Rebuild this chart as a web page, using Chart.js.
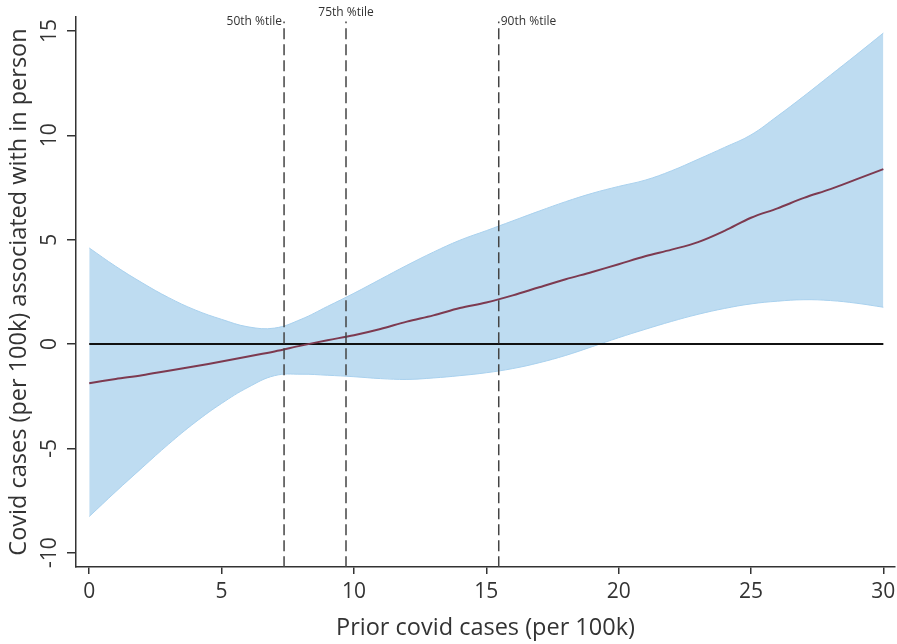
<!DOCTYPE html>
<html>
<head>
<meta charset="utf-8">
<script src="https://cdn.jsdelivr.net/npm/chart.js@4"></script>
<style>
  html, body { margin: 0; padding: 0; background: #fff; }
  #wrap { width: 897px; height: 644px; }
</style>
</head>
<body>
<div id="wrap"><canvas id="marginsChart" width="897" height="644"></canvas></div>
<script>
// === Data ===
const priorCases = [0, 1, 2, 3, 4, 5, 6, 7, 8, 9, 10, 11, 12, 13, 14, 15,
  16, 17, 18, 19, 20, 21, 22, 23, 24, 25, 26, 27, 28, 29, 30];
const effect = [-1.88, -1.68, -1.5, -1.28, -1.07, -0.84, -0.6, -0.36, -0.08, 0.18, 0.42,
  0.72, 1.07, 1.37, 1.72, 1.99, 2.33, 2.72, 3.1, 3.45, 3.82, 4.2, 4.52, 4.88, 5.42,
  6.05, 6.5, 7.0, 7.42, 7.9, 8.38];
const upperCI = [4.6, 3.72, 2.93, 2.22, 1.63, 1.18, 0.82, 0.76, 1.18, 1.8, 2.43,
  3.1, 3.77, 4.4, 4.97, 5.43, 5.9, 6.37, 6.82, 7.22, 7.55, 7.85, 8.3, 8.85, 9.42,
  10.02, 10.92, 11.88, 12.88, 13.88, 14.9];
const lowerCI = [-8.27, -7.08, -5.93, -4.8, -3.76, -2.85, -2.08, -1.52, -1.45, -1.5, -1.57,
  -1.66, -1.7, -1.63, -1.52, -1.38, -1.18, -0.9, -0.55, -0.13, 0.3, 0.7, 1.08, 1.42, 1.7,
  1.92, 2.05, 2.12, 2.08, 1.95, 1.76];

const pctNames = ["50th %tile", "75th %tile", "90th %tile"];
const pctValues = [7.36, 9.7, 15.47];

const xTicks = [0, 5, 10, 15, 20, 25, 30];
const yTicks = [-10, -5, 0, 5, 10, 15];

const textColor = "#333333";
const fontFamily = "'Open Sans', 'Noto Sans', sans-serif";

// === Helpers ===
const pts = (xs, ys) => xs.map((x, i) => ({ x: x, y: ys[i] }));

// === Percentile dashed lines as datasets ===
const pctSets = pctValues.map((v, i) => ({
  label: pctNames[i],
  data: [{ x: v, y: -10.7 }, { x: v, y: 15.45 }],
  borderColor: "#444444",
  borderWidth: 1.5,
  borderDash: [11, 5],
  pointRadius: 0,
  fill: false,
  order: 1
}));

// === Extra drawing: rotated y tick labels, y title, percentile labels ===
const extraText = {
  id: "extraText",
  afterDraw(chart) {
    const ctx = chart.ctx;
    const ys = chart.scales.y;
    const xs = chart.scales.x;
    ctx.save();
    ctx.fillStyle = textColor;

    // y tick labels (rotated like the original)
    ctx.font = "21px " + fontFamily;
    ctx.textAlign = "center";
    ctx.textBaseline = "middle";
    yTicks.forEach(v => {
      ctx.save();
      ctx.translate(50, ys.getPixelForValue(v));
      ctx.rotate(-Math.PI / 2);
      ctx.fillText(String(v), 0, 0);
      ctx.restore();
    });

    // y axis title
    ctx.font = "23.5px " + fontFamily;
    ctx.save();
    ctx.translate(19, (ys.top + ys.bottom) / 2);
    ctx.rotate(-Math.PI / 2);
    ctx.fillText("Covid cases (per 100k) associated with in person", 0, 0);
    ctx.restore();

    // percentile labels
    ctx.font = "12px " + fontFamily;
    ctx.textBaseline = "middle";
    const px0 = xs.getPixelForValue(pctValues[0]);
    const px1 = xs.getPixelForValue(pctValues[1]);
    const px2 = xs.getPixelForValue(pctValues[2]);
    ctx.textAlign = "right";
    ctx.fillText(pctNames[0], px0 - 2, 22);
    ctx.textAlign = "center";
    ctx.fillText(pctNames[1], px1, 13);
    ctx.textAlign = "left";
    ctx.fillText(pctNames[2], px2 + 2, 22);
    ctx.restore();
  }
};

// === Chart ===
const ctx = document.getElementById("marginsChart").getContext("2d");
const marginsChart = new Chart(ctx, {
  type: "line",
  data: {
    datasets: [
      {
        label: "Upper CI",
        data: pts(priorCases, upperCI),
        borderColor: "#a9d1ee",
        borderWidth: 1,
        backgroundColor: "#bedcf1",
        fill: "+1",
        pointRadius: 0,
        tension: 0.4,
        order: 5
      },
      {
        label: "Lower CI",
        data: pts(priorCases, lowerCI),
        borderColor: "#a9d1ee",
        borderWidth: 1,
        fill: false,
        pointRadius: 0,
        tension: 0.4,
        order: 4
      },
      {
        label: "Zero",
        data: [{ x: 0, y: 0 }, { x: 30, y: 0 }],
        borderColor: "#111111",
        borderWidth: 2,
        pointRadius: 0,
        fill: false,
        order: 3
      },
      {
        label: "Effect",
        data: pts(priorCases, effect),
        borderColor: "#7d3a50",
        borderWidth: 2,
        pointRadius: 0,
        fill: false,
        tension: 0.35,
        order: 2
      },
      ...pctSets
    ]
  },
  options: {
    responsive: false,
    animation: false,
    layout: { padding: { top: 17, right: 2, left: 0, bottom: 0 } },
    plugins: {
      legend: { display: false },
      tooltip: { enabled: false }
    },
    scales: {
      x: {
        type: "linear",
        min: -0.5,
        max: 30.44,
        afterBuildTicks: s => { s.ticks = xTicks.map(v => ({ value: v })); },
        afterFit: s => { s.height = 77; s.paddingLeft = 0; s.paddingRight = 0; },
        border: { display: true, color: "#333333", width: 1.5 },
        grid: { display: true, drawOnChartArea: false, drawTicks: true, tickLength: 7, color: "#333333", lineWidth: 1.5 },
        ticks: { color: textColor, padding: 5, font: { size: 21, family: fontFamily } },
        title: {
          display: true,
          text: "Prior covid cases (per 100k)",
          color: textColor,
          font: { size: 23.5, family: fontFamily },
          padding: { top: 0, bottom: 2 }
        }
      },
      y: {
        type: "linear",
        min: -10.69,
        max: 15.67,
        afterBuildTicks: s => { s.ticks = yTicks.map(v => ({ value: v })); },
        afterFit: s => { s.width = 76; s.paddingTop = 0; s.paddingBottom = 0; },
        border: { display: true, color: "#333333", width: 1.5 },
        grid: { display: true, drawOnChartArea: false, drawTicks: true, tickLength: 9, color: "#333333", lineWidth: 1.5 },
        ticks: { display: false }
      }
    }
  },
  plugins: [extraText]
});
</script>
</body>
</html>
